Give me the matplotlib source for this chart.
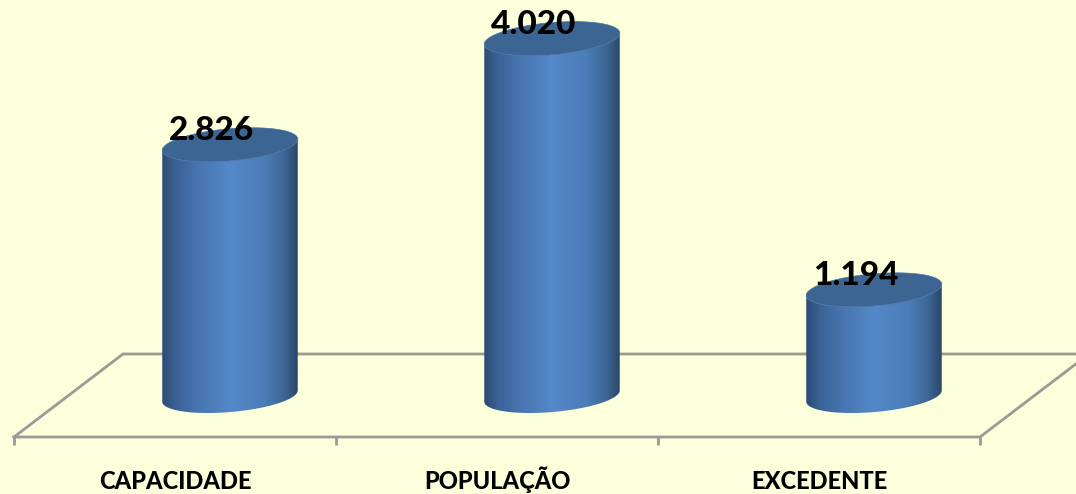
import numpy as np
import matplotlib
matplotlib.use("Agg")
import matplotlib.pyplot as plt
from matplotlib.colors import LinearSegmentedColormap
from matplotlib.patches import PathPatch, Polygon
from matplotlib.path import Path

# Data
categories = ["CAPACIDADE", "POPULAÇÃO", "EXCEDENTE"]
values = [2826, 4020, 1194]
value_labels = ["2.826", "4.020", "1.194"]

# Scale of the picture
W, H = 1076, 494
SLOT = 322.0         # px per category
PER_UNIT = 0.0889    # px per value unit
X0 = 14.0            # px of the first tick
Y0 = 396.0           # px of value 0

BG = "#FBFFDA"
GRID = "#9A9A96"
CAP = "#3D6593"

body_cmap = LinearSegmentedColormap.from_list(
    "body", [(0, "#2C4A74"), (0.1, "#3A6296"), (0.25, "#4674AE"), (0.5, "#5488C9"),
             (0.75, "#4C7DB9"), (0.9, "#3D6696"), (1, "#2B4768")])

fig = plt.figure(figsize=(W / 100, H / 100), dpi=100, facecolor=BG)
ax = fig.add_axes([0, 0, 1, 1])
ax.set_facecolor(BG)
ax.set_xlim(-X0 / SLOT - 0.5, (W - X0) / SLOT - 0.5)
ax.set_ylim((Y0 - H) / PER_UNIT, Y0 / PER_UNIT)
ax.axis("off")

# Offsets in px, turned into axis units
dx = lambda px: px / SLOT
dy = lambda px: -px / PER_UNIT   # px grows downward

SKEW = 55.0     # bars sit mid-depth on the floor
HALF_W = 68.0
HALF_H = 16.0
TILT = np.radians(5)


def ellipse(x, y, t):
    ex = HALF_W * np.cos(t)
    ey = HALF_H * np.sin(t)
    px = ex * np.cos(TILT) + ey * np.sin(TILT)
    py = -ex * np.sin(TILT) + ey * np.cos(TILT)
    return x + dx(px), y + dy(py)


# Floor
front, back = dy(437 - Y0), dy(354 - Y0)
left, right = -0.5, len(categories) - 0.5
depth = dx(109)
ax.plot([left, left + depth, right + depth], [front, back, back],
        color=GRID, lw=2, solid_joinstyle="miter", zorder=1)
ax.plot([left, right, right + depth], [front, front, back],
        color=GRID, lw=2, solid_joinstyle="miter", zorder=1)
ax.vlines(np.arange(len(categories) + 1) - 0.5, front + dy(8), front,
          color=GRID, lw=2, zorder=1)

# Cylinders
t_front = np.linspace(0, np.pi, 80)
t_all = np.linspace(0, 2 * np.pi, 160)
grad = np.linspace(0, 1, 256).reshape(1, -1)

for i, (v, lab) in enumerate(zip(values, value_labels)):
    cx = i + dx(SKEW)
    bx, by = ellipse(cx, 0, t_front)
    tx, ty = ellipse(cx, v, t_front[::-1])
    outline = np.column_stack([np.r_[bx, tx], np.r_[by, ty]])
    patch = Polygon(outline, closed=True, fc="none", ec="none",
                    transform=ax.transData)
    ax.add_patch(patch)
    im = ax.imshow(grad, cmap=body_cmap, aspect="auto", zorder=3,
                   extent=[cx - dx(HALF_W), cx + dx(HALF_W),
                           dy(40), v + dy(-40)], interpolation="bilinear")
    im.set_clip_path(patch)

    cap_x, cap_y = ellipse(cx, v, t_all)
    ax.add_patch(PathPatch(Path(np.column_stack([cap_x, cap_y])),
                           fc=CAP, ec="#4470A6", lw=0.5, zorder=4))

    ax.text(cx - dx(18), v + dy(-14), lab, ha="center", va="center",
            fontsize=24, fontweight=900, family="Lato", color="black",
            zorder=5)
    ax.text(i, dy(489 - Y0), categories[i], ha="center", va="baseline",
            fontsize=17, fontweight=900, family="Lato", color="black",
            zorder=5)

# imshow resets the limits
ax.set_xlim(-X0 / SLOT - 0.5, (W - X0) / SLOT - 0.5)
ax.set_ylim((Y0 - H) / PER_UNIT, Y0 / PER_UNIT)

fig.savefig("out.png", dpi=100, facecolor=BG)
